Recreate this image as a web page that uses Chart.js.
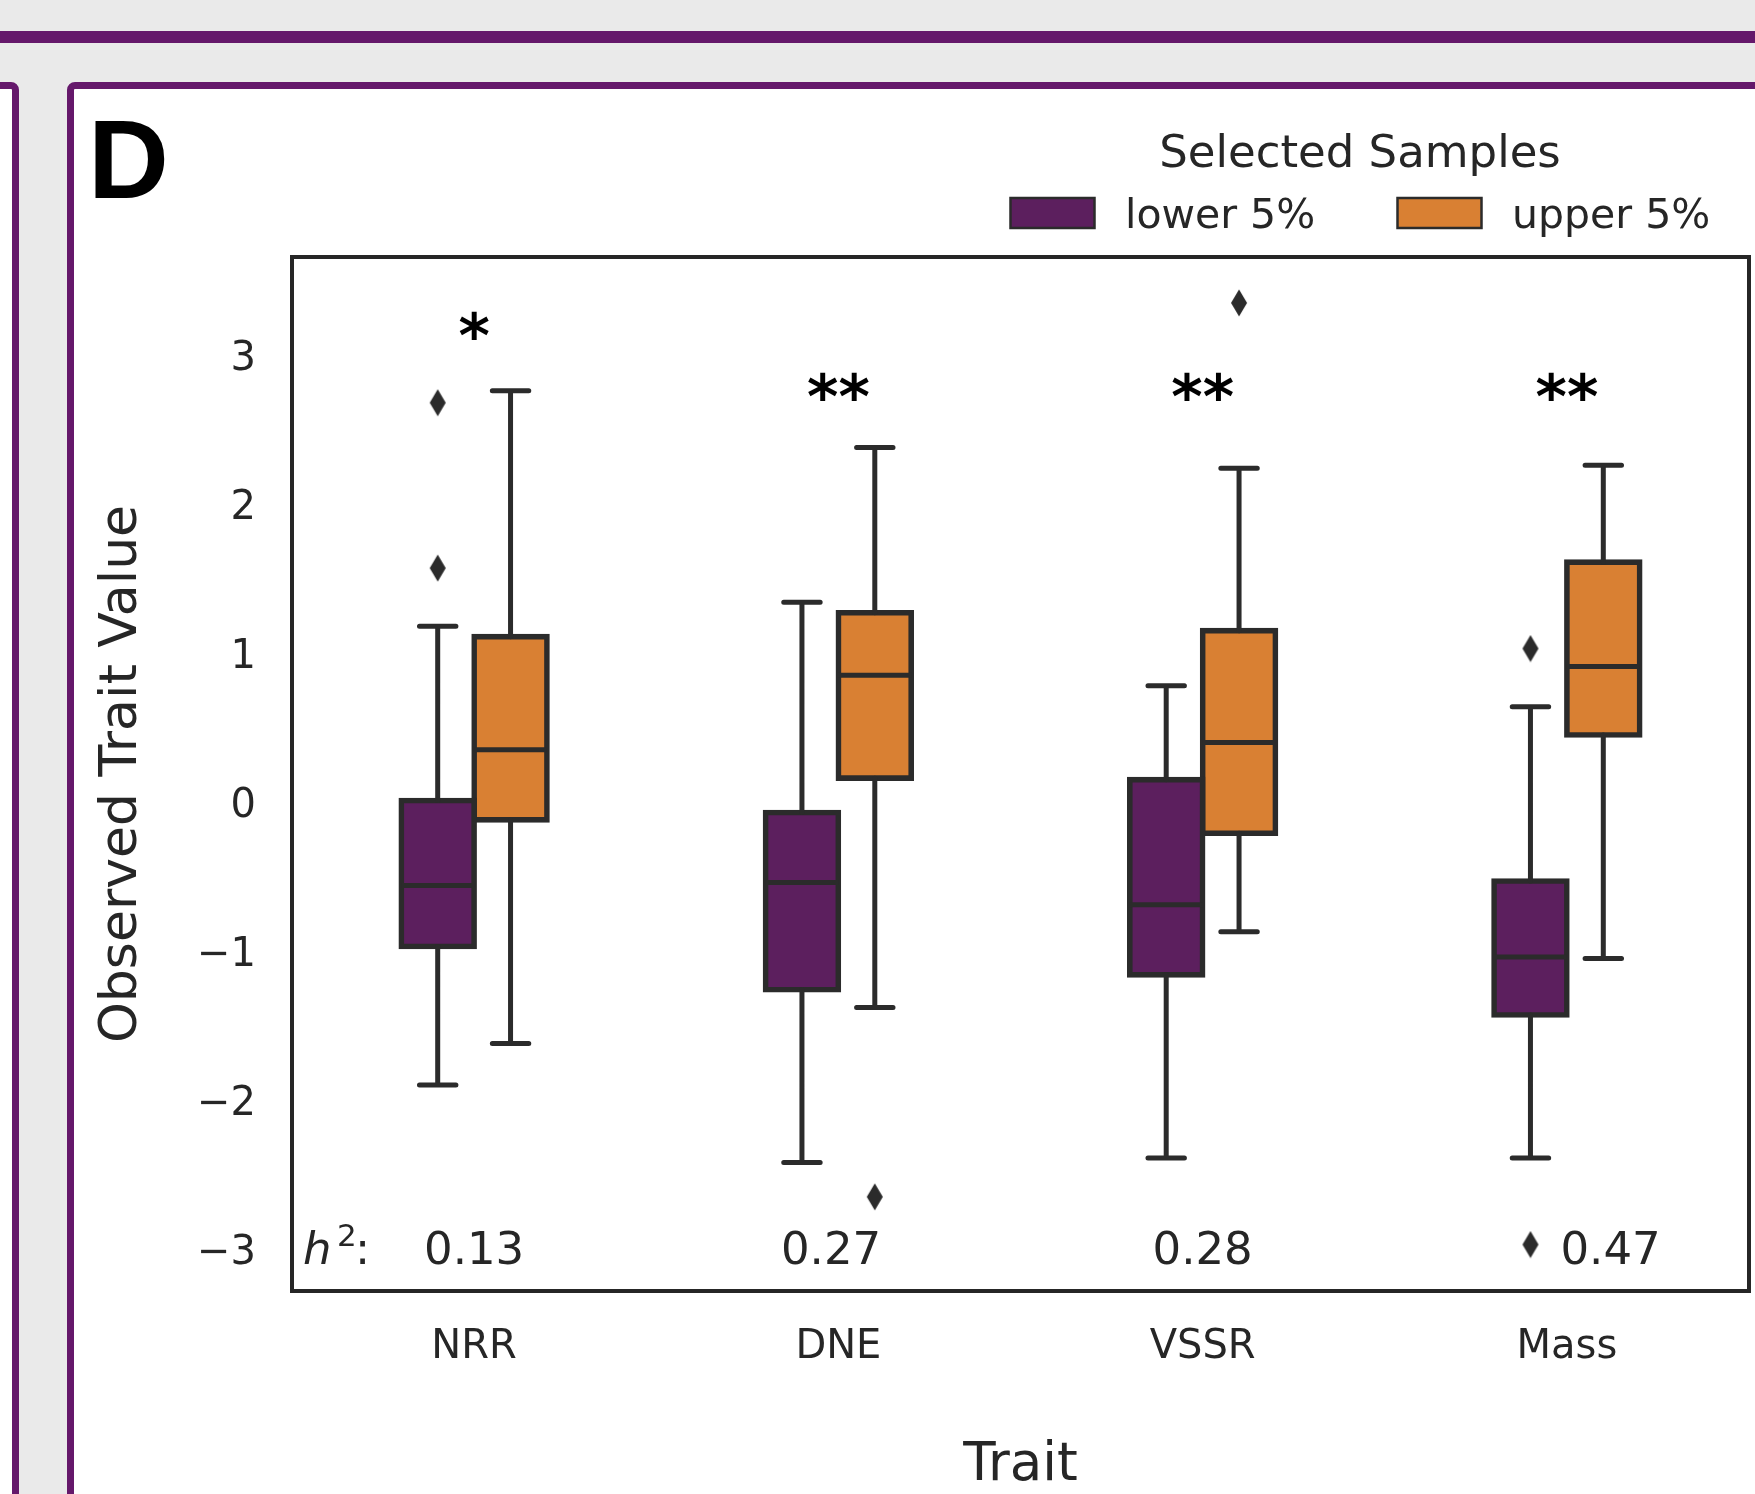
<!DOCTYPE html>
<html>
<head>
<meta charset="utf-8">
<title>Observed Trait Value by Trait</title>
<script src="https://cdn.jsdelivr.net/npm/chart.js"></script>
<style>
  html, body { margin: 0; padding: 0; }
  body { width: 1755px; height: 1494px; overflow: hidden; position: relative; background: #eaeaea; }
  .stripe { position: absolute; left: 0; top: 31px; width: 1755px; height: 12px; background: #65186b; }
  .panel { position: absolute; box-sizing: border-box; border: 7px solid #65186b; border-radius: 8px; background: #fff; }
  #prev { left: -120px; top: 82px; width: 139px; height: 1600px; }
  #panelD { left: 67px; top: 82px; width: 1800px; height: 1600px; }
  #chart { position: absolute; left: 74px; top: 89px; }
</style>
</head>
<body>
<div class="stripe"></div>
<div class="panel" id="prev"></div>
<div class="panel" id="panelD"></div>
<canvas id="chart" width="1681" height="1405"></canvas>
<script>
// categories and groups
const categories = ['NRR', 'DNE', 'VSSR', 'Mass'];
const groups = ['lower 5%', 'upper 5%'];

// box statistics, lower 5% group
const lowerQ1 = [-0.97, -1.26, -1.16, -1.43];
const lowerMedian = [-0.56, -0.54, -0.69, -1.04];
const lowerQ3 = [0.01, -0.07, 0.15, -0.53];
const lowerWhiskerLow = [-1.90, -2.42, -2.39, -2.39];
const lowerWhiskerHigh = [1.18, 1.34, 0.78, 0.64];
const lowerOutliers = [[2.68, 1.57], [], [], [1.03, -2.97]];

// upper 5% group
const upperQ1 = [-0.12, 0.16, -0.21, 0.45];
const upperMedian = [0.35, 0.85, 0.40, 0.91];
const upperQ3 = [1.11, 1.27, 1.15, 1.61];
const upperWhiskerLow = [-1.62, -1.38, -0.87, -1.05];
const upperWhiskerHigh = [2.76, 2.38, 2.24, 2.26];
const upperOutliers = [[], [-2.65], [3.35], []];

// annotations
const significance = ['*', '**', '**', '**'];
const significanceY = [3.20, 2.79, 2.79, 2.79];
const heritability = ['0.13', '0.27', '0.28', '0.47'];
const heritabilityShift = [0, -0.02, 0, 0.12];
const heritabilityY = -3;

// y axis
const yTicks = [-3, -2, -1, 0, 1, 2, 3];
const yMin = -3.282;
const yMax = 3.658;

const PURPLE = '#5c1f5e';
const ORANGE = '#d98033';
const EDGE = '#2b2b2b';
const TEXT = '#262626';
const FONT = '"DejaVu Sans"';

const boxShift = [-0.1, 0.1];
const capHalf = 0.05;

// thin diamond marker like matplotlib 'd'
function diamond() {
    const c = document.createElement('canvas');
    c.width = 18;
    c.height = 28;
    const g = c.getContext('2d');
    g.fillStyle = EDGE;
    g.beginPath();
    g.moveTo(9, 0.5);
    g.lineTo(17, 14);
    g.lineTo(9, 27.5);
    g.lineTo(1, 14);
    g.closePath();
    g.fill();
    return c;
}

function whiskerPoints(shift, q1, q3, lo, hi) {
    const pts = [];
    categories.forEach((_, i) => {
        const x = i + shift;
        pts.push({x: x, y: q1[i]}, {x: x, y: lo[i]}, {x: x, y: null});
        pts.push({x: x, y: q3[i]}, {x: x, y: hi[i]}, {x: x, y: null});
        pts.push({x: x - capHalf, y: lo[i]}, {x: x + capHalf, y: lo[i]}, {x: x, y: null});
        pts.push({x: x - capHalf, y: hi[i]}, {x: x + capHalf, y: hi[i]}, {x: x, y: null});
    });
    return pts;
}

function medianPoints(shift, med) {
    const pts = [];
    categories.forEach((_, i) => {
        const x = i + shift;
        pts.push({x: x - 0.1, y: med[i]}, {x: x + 0.1, y: med[i]}, {x: x, y: null});
    });
    return pts;
}

function outlierPoints(shift, outs) {
    const pts = [];
    outs.forEach((list, i) => list.forEach(v => pts.push({x: i + shift, y: v})));
    return pts;
}

function boxPoints(shift, q1, q3) {
    return categories.map((_, i) => ({x: i + shift, y: [q1[i], q3[i]]}));
}

const lineStyle = {
    type: 'line',
    borderColor: EDGE,
    borderWidth: 5,
    pointRadius: 0,
    spanGaps: false,
    fill: false,
    tension: 0
};

const barStyle = {
    type: 'bar',
    borderColor: EDGE,
    borderWidth: 5.6,
    borderSkipped: false,
    inflateAmount: 2.8,
    grouped: false,
    categoryPercentage: 1.0,
    barPercentage: 1.0
};

const datasets = [
    Object.assign({}, lineStyle, {
        label: 'whiskers lower',
        borderCapStyle: 'round',
        data: whiskerPoints(boxShift[0], lowerQ1, lowerQ3, lowerWhiskerLow, lowerWhiskerHigh)
    }),
    Object.assign({}, lineStyle, {
        label: 'whiskers upper',
        borderCapStyle: 'round',
        data: whiskerPoints(boxShift[1], upperQ1, upperQ3, upperWhiskerLow, upperWhiskerHigh)
    }),
    Object.assign({}, lineStyle, {
        label: 'medians',
        borderCapStyle: 'butt',
        data: medianPoints(boxShift[0], lowerMedian).concat(medianPoints(boxShift[1], upperMedian))
    }),
    {
        type: 'scatter',
        label: 'outliers',
        pointStyle: diamond(),
        pointRadius: 10,
        data: outlierPoints(boxShift[0], lowerOutliers).concat(outlierPoints(boxShift[1], upperOutliers))
    },
    Object.assign({}, barStyle, {
        label: groups[0],
        backgroundColor: PURPLE,
        data: boxPoints(boxShift[0], lowerQ1, lowerQ3)
    }),
    Object.assign({}, barStyle, {
        label: groups[1],
        backgroundColor: ORANGE,
        data: boxPoints(boxShift[1], upperQ1, upperQ3)
    })
];

// frame, stars, h^2 row, legend and panel letter
const decorations = {
    id: 'decorations',
    afterDraw(chart) {
        const ctx = chart.ctx;
        const area = chart.chartArea;
        const xs = chart.scales.x;
        const ys = chart.scales.y;
        ctx.save();

        // axes frame
        ctx.strokeStyle = TEXT;
        ctx.lineWidth = 4;
        ctx.strokeRect(area.left, area.top, area.right - area.left, area.bottom - area.top);

        // significance stars
        ctx.fillStyle = '#000';
        ctx.font = 'bold 60px ' + FONT;
        ctx.textAlign = 'center';
        ctx.textBaseline = 'alphabetic';
        significance.forEach((s, i) => {
            const m = ctx.measureText(s);
            const cy = ys.getPixelForValue(significanceY[i]);
            const base = cy + (m.actualBoundingBoxAscent - m.actualBoundingBoxDescent) / 2;
            ctx.fillText(s, xs.getPixelForValue(i), base);
        });

        // heritability row
        const base = ys.getPixelForValue(heritabilityY) + 15;
        const hx = area.left + 11;
        ctx.fillStyle = TEXT;
        ctx.textAlign = 'left';
        ctx.font = 'italic 45px ' + FONT;
        ctx.fillText('h', hx, base);
        ctx.font = '31px ' + FONT;
        ctx.fillText('2', hx + 34, base - 18);
        ctx.font = '45px ' + FONT;
        ctx.fillText(':', hx + 52, base);
        ctx.textAlign = 'center';
        heritability.forEach((h, i) => {
            ctx.fillText(h, xs.getPixelForValue(i + heritabilityShift[i]), base);
        });

        // legend
        ctx.font = '45px ' + FONT;
        ctx.textAlign = 'center';
        ctx.fillText('Selected Samples', 1286, 78);
        const legendX = [936.5, 1323.5];
        const colors = [PURPLE, ORANGE];
        groups.forEach((g, k) => {
            ctx.fillStyle = colors[k];
            ctx.fillRect(legendX[k], 109, 84, 30);
            ctx.lineWidth = 2.5;
            ctx.strokeStyle = EDGE;
            ctx.strokeRect(legendX[k], 109, 84, 30);
            ctx.fillStyle = TEXT;
            ctx.font = '41px ' + FONT;
            ctx.textAlign = 'left';
            ctx.fillText(g, legendX[k] + 114.5, 139);
        });

        // panel letter
        ctx.fillStyle = '#000';
        ctx.font = 'bold 112px "Liberation Sans"';
        ctx.textAlign = 'left';
        const dm = ctx.measureText('D');
        ctx.fillText('D', 21 + dm.actualBoundingBoxLeft, 109);

        ctx.restore();
    }
};

Chart.defaults.font.family = FONT;
Chart.defaults.color = TEXT;

new Chart(document.getElementById('chart'), {
    type: 'bar',
    data: {
        datasets: datasets
    },
    options: {
        responsive: false,
        devicePixelRatio: 1,
        animation: false,
        events: [],
        layout: {
            autoPadding: false,
            padding: {top: 168, right: 6, left: 0, bottom: 0}
        },
        plugins: {
            legend: {display: false},
            tooltip: {enabled: false}
        },
        scales: {
            x: {
                type: 'linear',
                min: -0.5,
                max: 3.5,
                offset: false,
                afterBuildTicks: (s) => { s.ticks = categories.map((_, i) => ({value: i})); },
                afterFit: (s) => { s.height = 203; },
                grid: {display: false, drawTicks: false},
                border: {display: false},
                ticks: {
                    padding: 33,
                    font: {size: 40},
                    color: TEXT,
                    maxRotation: 0,
                    autoSkip: false,
                    callback: (v) => categories[v]
                },
                title: {display: true, text: 'Trait', font: {size: 53, lineHeight: 1.03}, color: TEXT, padding: 0}
            },
            y: {
                min: yMin,
                max: yMax,
                afterBuildTicks: (s) => { s.ticks = yTicks.map(v => ({value: v})); },
                afterFit: (s) => { s.width = 218; },
                grid: {display: false, drawTicks: false},
                border: {display: false},
                ticks: {
                    padding: 36,
                    labelOffset: 5,
                    font: {size: 40},
                    color: TEXT,
                    callback: (v) => String(v).replace('-', '\u2212')
                },
                title: {
                    display: true,
                    text: 'Observed Trait Value',
                    font: {size: 52},
                    color: TEXT,
                    padding: {top: 17, bottom: 0}
                }
            }
        }
    },
    plugins: [decorations]
});
</script>
</body>
</html>
